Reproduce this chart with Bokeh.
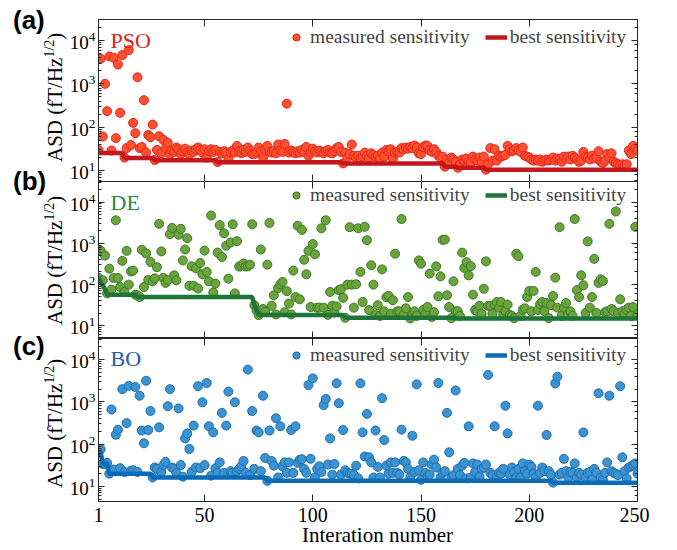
from bokeh.plotting import figure
from bokeh.layouts import column, row
from bokeh.models import (Range1d, LogAxis, LinearAxis, FixedTicker, LogTicker, Label,
                          Legend, LegendItem, CustomJSTickFormatter, Div)
from bokeh.embed import file_html
from bokeh.resources import INLINE

# ---------------- data ----------------
iterations = list(range(1, 251))
x_ticks = [1, 50, 100, 150, 200, 250]

pso_measured = [
    30, 3800, 61, 1000, 235, 4300, 29, 4000, 56, 2800,
    215, 4600, 20, 33, 6000, 39, 126, 73, 1420, 33,
    35, 420, 26, 66, 59, 115, 17.5, 30, 62, 25,
    51, 33, 44, 24, 29, 27, 34, 31, 24, 28,
    32, 26, 24, 29, 27, 31, 34, 30, 26, 31,
    20, 28, 31, 27, 30, 15.8, 27, 25, 28, 26,
    18.6, 27, 29, 26, 37, 28, 25, 30, 27, 34,
    29, 24, 24, 27, 34, 28, 20, 30, 37, 27,
    26, 28, 25, 40, 29, 27, 41, 350, 26, 29,
    27, 25, 28, 26, 30, 27, 35, 22, 26, 32,
    28, 26, 29, 27, 25, 28, 30, 26, 25, 28,
    33, 35, 27, 14.6, 26, 20, 24, 40, 22, 20,
    22, 19, 21, 26, 22, 20, 25, 23, 21, 22,
    19, 26, 21, 30, 28, 31, 19, 26, 27, 26,
    33, 31, 34, 32, 35, 33, 38, 34, 25, 24,
    35, 38, 37, 29, 27, 31, 27, 22, 20, 21,
    12.3, 18, 16, 20, 18, 16, 11.6, 14, 18, 17,
    19, 16, 15, 21, 18, 17, 20, 16, 21, 10.5,
    14, 33, 17, 31, 17, 22, 21, 22, 23, 37,
    31, 28, 30, 33, 29, 27, 34, 22, 21, 20,
    18, 17, 18, 17, 18, 16, 17, 18, 17, 18,
    20, 17, 19, 18, 16, 21, 19, 21, 18, 22,
    20, 18, 16, 17, 27, 21, 20, 18, 22, 19,
    21, 28, 16, 15, 17, 24, 20, 25, 16, 15,
    14, 13.5, 14, 13, 14, 29, 24, 37, 32, 29,
]
pso_best_iter = [1, 12, 13, 26, 27, 55, 56, 113, 114, 160, 161, 166, 167, 179, 180, 250]
pso_best_val = [25.6, 25.6, 19.5, 19.5, 17.2, 17.2, 15.6, 15.6, 14.5, 14.5,
                12.3, 12.3, 11.6, 11.6, 10.5, 10.5]

de_measured = [
    145, 660, 125, 500, 60, 240, 74, 142, 3600, 142,
    86, 370, 65, 650, 98, 205, 215, 56, 54, 49,
    690, 86, 560, 127, 350, 118, 139, 260, 2950, 630,
    142, 108, 127, 1660, 2350, 165, 125, 1600, 2230, 380,
    700, 1320, 92, 275, 92, 245, 79, 330, 175, 660,
    200, 118, 4700, 63, 104, 590, 2750, 460, 1740, 870,
    137, 1040, 2880, 60, 1120, 270, 285, 320, 270, 275,
    300, 2880, 31, 23, 17.8, 700, 25, 21.4, 300, 3100,
    30, 54, 18.5, 81, 100, 114, 21, 68, 34, 18.5,
    215, 49, 2650, 43, 2100, 395, 175, 650, 28, 950,
    535, 27, 27, 2300, 27, 3600, 18, 65, 30, 20.6,
    29, 72, 76, 47, 15.3, 98, 2450, 98, 27, 100,
    2300, 200, 37, 2500, 1180, 23.6, 290, 98, 17.8, 31,
    17, 230, 22, 48.6, 52, 19, 41, 555, 22, 22,
    3870, 18, 26, 49, 14.8, 19, 22, 17, 380, 317,
    23.6, 19, 28, 182, 16, 21, 273, 51, 156, 1200,
    1220, 54, 28, 15, 118, 22, 22, 17, 590, 250,
    345, 165, 275, 56, 23.6, 22, 30, 19, 78, 360,
    30, 30, 19, 32, 37, 27, 37, 18, 22, 32,
    18, 17, 15, 555, 480, 17, 24, 26, 49, 69,
    22, 69, 200, 23.6, 33, 37, 22, 35, 15, 31,
    52, 145, 27, 2450, 17, 27, 35, 19, 22, 17,
    3870, 72, 49, 165, 95, 20, 1100, 27, 49, 415,
    20, 108, 132, 120, 21, 22, 2950, 25, 22, 5900,
    20, 43, 22, 19, 24, 27, 17, 28, 2500, 18,
]
de_best_iter = [1, 2, 3, 4, 5, 18, 19, 72, 73, 74, 75, 114, 115, 165, 166, 250]
de_best_val = [145, 110, 95, 75, 56, 56, 49, 49, 31, 23, 17.8, 17.8, 15.3, 15.3, 14.8, 14.8]

bo_measured = [
    64, 76, 34, 34, 36, 20, 660, 25, 167, 220,
    27, 2000, 22, 315, 2400, 23.5, 24, 2250, 22, 1400,
    210, 105, 3170, 216, 610, 16.3, 28, 26, 250, 22,
    32, 38, 790, 2000, 28, 26, 20.7, 700, 32, 17,
    137, 180, 77, 22, 275, 28, 2350, 27, 980, 32,
    2800, 265, 18, 190, 27, 21, 37, 550, 21, 275,
    1750, 23, 21, 980, 23, 26, 30, 40, 21, 5800,
    18.5, 610, 26, 210, 190, 23, 1400, 47, 13.6, 210,
    40, 31, 410, 16.3, 265, 30, 37, 21, 37, 215,
    21, 265, 36, 43, 44, 26, 21, 2500, 45, 3600,
    16.3, 26, 30, 22, 840, 1170, 33, 137, 19, 34,
    2750, 930, 19, 215, 24, 21, 20, 20, 18.5, 31,
    15.5, 2750, 190, 51, 520, 49, 37, 16.3, 210, 29,
    16.3, 1220, 125, 31, 20, 37, 21, 37, 21, 19,
    220, 40, 37, 26, 16.3, 158, 22, 2600, 24, 14.4,
    37, 21, 17.5, 19, 33, 43, 28, 2800, 16.3, 21,
    23, 550, 64, 16.3, 18.5, 1860, 26, 18.5, 31, 36,
    15.5, 265, 16.3, 35, 22, 33, 17, 26, 28, 33,
    4350, 21, 18.5, 265, 16.3, 21, 20, 26, 810, 180,
    19, 28, 22, 16.3, 26, 16.3, 35, 23, 20, 33,
    29, 20, 16.3, 810, 21, 28, 23, 165, 23, 19,
    12.3, 2750, 3950, 19, 21, 45, 23, 16.3, 22, 21,
    35, 16.3, 21, 19, 190, 16.3, 21, 22, 14.4, 26,
    21, 1600, 16.3, 14.4, 21, 37, 1400, 23, 21, 20,
    18.5, 2350, 49, 23, 15.5, 28, 30, 32, 35, 20,
]
bo_best_iter = [1, 2, 3, 5, 6, 25, 26, 78, 79, 210, 211, 250]
bo_best_val = [64, 64, 35, 35, 20, 20, 16.3, 16.3, 13.6, 13.6, 12.3, 12.3]

# ---------------- layout constants ----------------
LEFT_DIV = 64
LEFT = 34
RIGHT = 12
FRAME_W = 539
W = LEFT + FRAME_W + RIGHT
SERIF = "Liberation Serif"
AXC = "#262626"
OVERLAP = 8


def style_axis(ax, tick_in, minor=True, labels=False, label_size="19px", standoff=3):
    ax.axis_line_color = AXC
    ax.major_tick_line_color = AXC
    ax.major_tick_out = 0
    ax.major_tick_in = tick_in
    if minor:
        ax.minor_tick_line_color = AXC
        ax.minor_tick_out = 0
        ax.minor_tick_in = 3
    else:
        ax.minor_tick_line_color = None
    if labels:
        ax.major_label_text_font = SERIF
        ax.major_label_text_font_size = label_size
        ax.major_label_text_color = "black"
        ax.major_label_standoff = standoff
    else:
        ax.formatter = CustomJSTickFormatter(code="return ''")
        ax.major_label_text_font_size = "0px"
        ax.major_label_standoff = 0


def make_panel(measured, best_it, best_val, fill, edge, lcolor, name, ncolor,
               y_lo, y_hi, frame_h, top, bottom, bottom_labels, legend_loc, name_y, shift):
    kw = {}
    if shift:
        kw["styles"] = {"margin-top": "-%dpx" % shift}
    p = figure(width=W, height=frame_h + top + bottom,
               x_range=Range1d(1, 250), y_range=Range1d(y_lo, y_hi),
               y_axis_type="log", output_backend="svg", toolbar_location=None,
               min_border_left=LEFT, min_border_right=RIGHT,
               min_border_top=top, min_border_bottom=bottom, **kw)
    p.grid.visible = False
    p.outline_line_color = AXC
    p.border_fill_alpha = 0
    p.background_fill_color = "white"

    p.xaxis.ticker = FixedTicker(ticks=x_ticks)
    style_axis(p.xaxis[0], 7, minor=False, labels=bottom_labels, label_size="20px", standoff=6)
    style_axis(p.yaxis[0], 6, minor=True, labels=True, label_size="19px", standoff=3)
    top_ax = LinearAxis(ticker=FixedTicker(ticks=x_ticks))
    style_axis(top_ax, 7, minor=False, labels=False)
    p.add_layout(top_ax, "above")
    right_ax = LogAxis(ticker=LogTicker())
    style_axis(right_ax, 6, minor=True, labels=False)
    p.add_layout(right_ax, "right")

    r1 = p.scatter(iterations, measured, size=9, fill_color=fill, line_color=edge,
                   line_width=1)
    r2 = p.line(best_it, best_val, line_color=lcolor, line_width=4.5)

    legend = Legend(items=[LegendItem(label="measured sensitivity", renderers=[r1]),
                           LegendItem(label="best sensitivity", renderers=[r2])],
                    orientation="horizontal", location=legend_loc,
                    label_text_font=SERIF, label_text_font_size="19.5px",
                    glyph_width=22, glyph_height=18, label_standoff=3, spacing=15,
                    padding=2, margin=0, background_fill_alpha=0,
                    border_line_alpha=0)
    p.add_layout(legend)

    p.add_layout(Label(x=12, y=name_y, x_units="screen", y_units="screen",
                       text=name, text_font=SERIF, text_font_size="22px",
                       text_color=ncolor, text_baseline="alphabetic"))
    return p


pa = make_panel(pso_measured, pso_best_iter, pso_best_val,
                "#FF5030", "#E3261B", "#C4161C", "PSO", "#E3211C",
                5.6, 30500, 162, 19, OVERLAP, False, (185, 131), 141, 0)
pb = make_panel(de_measured, de_best_iter, de_best_val,
                "#6AA43A", "#3D7A2B", "#1D7537", "DE", "#2A8A40",
                4.8, 31600, 157, 0, 0, False, (185, 130), 136, OVERLAP)
pc = make_panel(bo_measured, bo_best_iter, bo_best_val,
                "#3B93D1", "#1F6FAE", "#0A6CB8", "BO", "#1E5AA8",
                4.4, 31600, 163, 0, 32, True, (185, 133), 143, 0)

# ---------------- texts outside the frames (HTML) ----------------
ROW_H = 181 + 157 + 163 + 32


def ylabel(top):
    return ('<span style="position:absolute;left:45px;top:%dpx;transform-origin:0 0;'
            'transform:rotate(-90deg);white-space:nowrap;font-family:\'Liberation Serif\';'
            'font-size:21px;line-height:21px;color:black;">ASD (fT/Hz'
            '<span style="font-size:14px;position:relative;top:-8px;">1/2</span>)</span>' % top)


def letter(txt, top):
    return ('<span style="position:absolute;left:13px;top:%dpx;font-family:\'Liberation Sans\';'
            'font-weight:bold;font-size:26px;line-height:26px;color:black;">%s</span>' % (top, txt))


left_html = ('<div style="position:relative;width:%dpx;height:%dpx;">' % (LEFT_DIV, ROW_H)
             + letter("(a)", 7) + letter("(b)", 168) + letter("(c)", 333)
             + ylabel(162) + ylabel(325) + ylabel(488) + '</div>')
left_div = Div(text=left_html, width=LEFT_DIV, height=ROW_H, margin=0,
               styles={"overflow": "visible"})

bottom_html = ('<div style="position:relative;width:640px;height:15px;">'
               '<span style="position:absolute;left:302px;top:-8px;white-space:nowrap;'
               'font-family:\'Liberation Serif\';font-size:21px;line-height:21px;color:black;">'
               'Interation number</span></div>')
bottom_div = Div(text=bottom_html, width=LEFT_DIV + W, height=15, margin=0,
                 styles={"overflow": "visible"})

layout = column(row(left_div, column(pa, pb, pc, spacing=0), spacing=0), bottom_div, spacing=0)
open("out.html", "w").write(file_html(layout, INLINE))
